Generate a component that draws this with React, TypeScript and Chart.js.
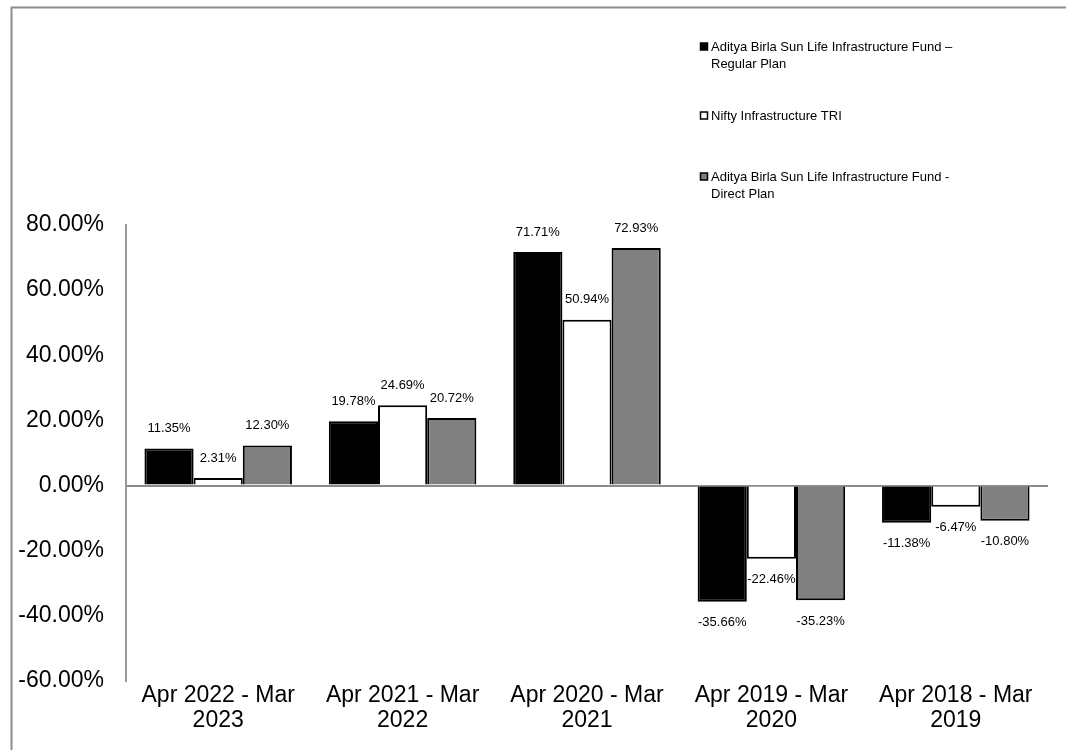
import React, { useEffect, useRef } from "react";
import { Chart, registerables } from "chart.js";

Chart.register(...registerables);

const categories: string[][] = [
  ["Apr 2022 - Mar", "2023"],
  ["Apr 2021 - Mar", "2022"],
  ["Apr 2020 - Mar", "2021"],
  ["Apr 2019 - Mar", "2020"],
  ["Apr 2018 - Mar", "2019"],
];
const regularPlan = [11.35, 19.78, 71.71, -35.66, -11.38];
const niftyTRI = [2.31, 24.69, 50.94, -22.46, -6.47];
const directPlan = [12.3, 20.72, 72.93, -35.23, -10.8];
const seriesNames = [
  ["Aditya Birla Sun Life Infrastructure Fund \u2013", "Regular Plan"],
  ["Nifty Infrastructure TRI"],
  ["Aditya Birla Sun Life Infrastructure Fund -", "Direct Plan"],
];
const yMin = -60;
const yMax = 80;
const yStep = 20;

const FONT = "'Liberation Sans', Arial, sans-serif";

const framePlugin = {
  id: "frame",
  beforeDraw(chart: any) {
    const ctx = chart.ctx;
    ctx.save();
    ctx.strokeStyle = "#8c8c8c";
    ctx.lineWidth = 2;
    ctx.beginPath();
    ctx.moveTo(11.5, 760);
    ctx.lineTo(11.5, 7.5);
    ctx.lineTo(1070, 7.5);
    ctx.stroke();
    ctx.restore();
  },
};

const labelPlugin = {
  id: "valueLabels",
  afterDatasetsDraw(chart: any) {
    const ctx = chart.ctx;
    ctx.save();
    ctx.font = `13px ${FONT}`;
    ctx.fillStyle = "#000";
    ctx.textAlign = "center";
    ctx.textBaseline = "middle";
    chart.data.datasets.forEach((ds: any, i: number) => {
      const meta = chart.getDatasetMeta(i);
      meta.data.forEach((el: any, j: number) => {
        const v = ds.data[j] as number;
        const y = v >= 0 ? el.y - 20 : el.y + 21;
        ctx.fillText(v.toFixed(2) + "%", el.x, y);
      });
    });
    ctx.restore();
  },
};

const legendPlugin = {
  id: "customLegend",
  afterDraw(chart: any) {
    const ctx = chart.ctx;
    const tops = [47, 116, 177];
    ctx.save();
    ctx.font = `13px ${FONT}`;
    ctx.textBaseline = "middle";
    ctx.textAlign = "left";
    chart.data.datasets.forEach((ds: any, i: number) => {
      const y = tops[i];
      ctx.fillStyle = ds.backgroundColor;
      ctx.fillRect(700.5, y - 4, 7, 7);
      ctx.strokeStyle = "#000";
      ctx.lineWidth = 1.5;
      ctx.strokeRect(700.5, y - 4, 7, 7);
      ctx.fillStyle = "#000";
      seriesNames[i].forEach((line, k) => {
        ctx.fillText(line, 711, y + k * 17);
      });
    });
    ctx.restore();
  },
};

export default function App() {
  const ref = useRef<HTMLCanvasElement | null>(null);
  useEffect(() => {
    if (!ref.current) return;
    const chart = new Chart(ref.current, {
      type: "bar",
      data: {
        labels: categories,
        datasets: [
          {
            label: seriesNames[0].join(" "),
            data: regularPlan,
            backgroundColor: "#000000",
            borderColor: "#000000",
            borderWidth: 2,
          },
          {
            label: seriesNames[1].join(" "),
            data: niftyTRI,
            backgroundColor: "#ffffff",
            borderColor: "#000000",
            borderWidth: 2,
          },
          {
            label: seriesNames[2].join(" "),
            data: directPlan,
            backgroundColor: "#808080",
            borderColor: "#000000",
            borderWidth: 2,
          },
        ],
      },
      options: {
        animation: false,
        responsive: true,
        maintainAspectRatio: false,
        layout: { padding: { left: 0, right: 18, top: 225, bottom: 0 } },
        datasets: { bar: { categoryPercentage: 0.8, barPercentage: 1.0 } },
        plugins: {
          legend: { display: false },
          tooltip: { enabled: false },
        },
        scales: {
          x: {
            grid: { display: false },
            border: { display: false },
            ticks: {
              color: "#000",
              font: { family: FONT, size: 23, lineHeight: 1.1 },
              padding: -6,
              maxRotation: 0,
              autoSkip: false,
            },
            afterFit(scale: any) {
              scale.height = 69;
            },
          },
          y: {
            min: yMin,
            max: yMax,
            ticks: {
              stepSize: yStep,
              color: "#000",
              font: { family: FONT, size: 23 },
              padding: 22,
              callback: (v: any) => Number(v).toFixed(2) + "%",
            },
            grid: {
              drawTicks: false,
              color: (c: any) => (c.tick && c.tick.value === 0 ? "#8c8c8c" : "rgba(0,0,0,0)"),
              lineWidth: 2,
            },
            border: { display: true, color: "#999999", width: 2 },
            afterFit(scale: any) {
              scale.width = 126;
            },
          },
        },
      },
      plugins: [framePlugin, labelPlugin, legendPlugin],
    });
    return () => chart.destroy();
  }, []);
  return (
    <div style={{ position: "fixed", left: 0, top: 0, width: 1066, height: 750, background: "#fff" }}>
      <canvas ref={ref} />
    </div>
  );
}
